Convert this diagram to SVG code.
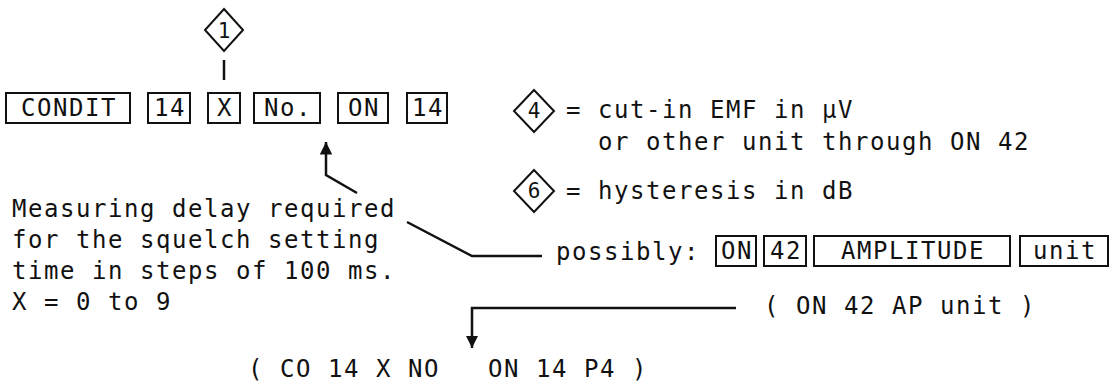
<svg xmlns="http://www.w3.org/2000/svg" width="1114" height="384" viewBox="0 0 1114 384">
<defs>
<style>
.t { font-family: "DejaVu Sans Mono", "Liberation Mono", monospace; font-size: 24px; letter-spacing: 1.55px; fill: #111; white-space: pre; }
.c { text-anchor: middle; }
.d { font-family: "DejaVu Sans Mono", "Liberation Mono", monospace; font-size: 21px; fill: #111; text-anchor: middle; }
.box { fill: #fff; stroke: #111; stroke-width: 2; }
.ln { stroke: #111; stroke-width: 2.5; fill: none; }
</style>
<marker id="ah" viewBox="0 0 10 10" refX="10" refY="5" markerWidth="5" markerHeight="7" markerUnits="strokeWidth" orient="auto">
<path d="M0,0 L10,5 L0,10 z" fill="#111"/>
</marker>
</defs>
<rect width="1114" height="384" fill="#fff"/>

<g id="connectors">
<line class="ln" x1="224" y1="60" x2="224" y2="80"/>
<path class="ln" d="M357,193 L326,175 L326,142" marker-end="url(#ah)"/>
<path class="ln" d="M407,222 L472,256 L542,256"/>
<path class="ln" d="M736,308 L472,308 L472,348" marker-end="url(#ah)"/>
</g>

<g id="diamond1">
<polygon class="box" points="224,9 243,30 224,51 205,30"/>
<text class="d" x="224" y="38">1</text>
</g>

<g id="row1">
<g id="b-condit"><rect class="box" x="6" y="93" width="124" height="30"/><text class="t c" x="69" y="116">CONDIT</text></g>
<g id="b-14a"><rect class="box" x="148" y="93" width="42" height="30"/><text class="t c" x="170" y="116">14</text></g>
<g id="b-x"><rect class="box" x="208" y="93" width="32" height="30"/><text class="t c" x="225" y="116">X</text></g>
<g id="b-no"><rect class="box" x="254" y="93" width="66" height="30"/><text class="t c" x="288" y="116">No.</text></g>
<g id="b-on"><rect class="box" x="338" y="93" width="50" height="30"/><text class="t c" x="364" y="116">ON</text></g>
<g id="b-14b"><rect class="box" x="407" y="93" width="40" height="30"/><text class="t c" x="428" y="116">14</text></g>
</g>

<g id="legend4">
<polygon class="box" points="534,90 554,111 534,132 514,111"/>
<text class="d" x="534" y="118">4</text>
<text class="t" x="566" y="118">= cut-in EMF in µV</text>
<text class="t" x="598" y="150">or other unit through ON 42</text>
</g>

<g id="legend6">
<polygon class="box" points="534,170 554,191 534,212 514,191"/>
<text class="d" x="534" y="198">6</text>
<text class="t" x="566" y="199">= hysteresis in dB</text>
</g>

<g id="note">
<text class="t" x="12" y="217">Measuring delay required</text>
<text class="t" x="12" y="248">for the squelch setting</text>
<text class="t" x="12" y="279">time in steps of 100 ms.</text>
<text class="t" x="12" y="310">X = 0 to 9</text>
</g>

<g id="row2">
<text class="t" x="556" y="260">possibly:</text>
<g id="b2-on"><rect class="box" x="716" y="236" width="40" height="30"/><text class="t c" x="737" y="259">ON</text></g>
<g id="b2-42"><rect class="box" x="764" y="236" width="42" height="30"/><text class="t c" x="786" y="259">42</text></g>
<g id="b2-amp"><rect class="box" x="814" y="236" width="196" height="30"/><text class="t c" x="913" y="259">AMPLITUDE</text></g>
<g id="b2-unit"><rect class="box" x="1020" y="236" width="88" height="30"/><text class="t c" x="1065" y="259">unit</text></g>
<text class="t" x="764" y="314">( ON 42 AP unit )</text>
</g>

<g id="result">
<text class="t" x="248" y="377">( CO 14 X NO   ON 14 P4 )</text>
</g>
</svg>
